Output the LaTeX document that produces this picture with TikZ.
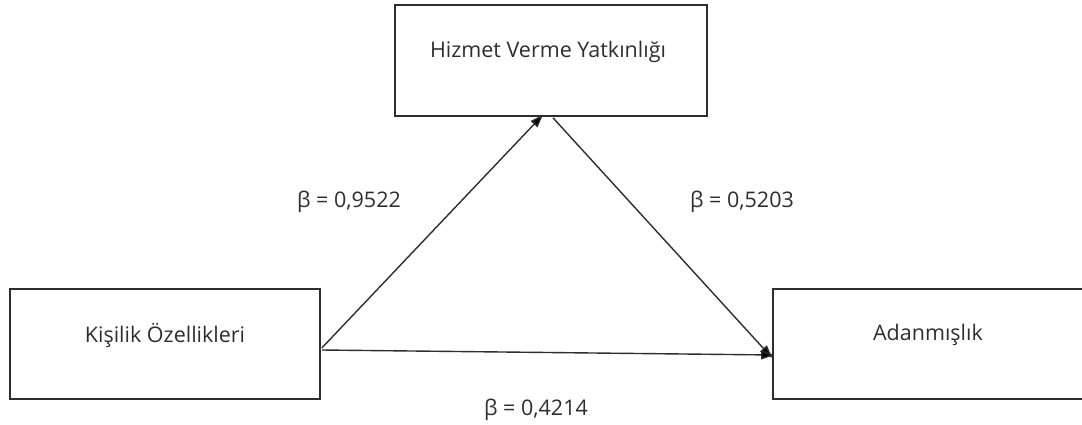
\documentclass[tikz,border=0pt]{standalone}
\usepackage{fontspec}
\setmainfont{Open Sans}
\usetikzlibrary{arrows.meta,calc}
\definecolor{ink}{HTML}{2E2E2E}
\tikzset{
  box/.style={draw=ink, line width=1.6pt, rectangle, inner sep=0pt},
  txt/.style={text=ink, font=\fontsize{21.5}{25}\selectfont, inner sep=0pt},
  arr/.style={draw=ink, line width=1.4pt, -{Triangle[length=13pt,width=9pt,fill=black]}}
}
\begin{document}
\begin{tikzpicture}[x=1pt, y=-1pt]
  \useasboundingbox (0,0) rectangle (1082,424);
  \begin{scope}
    \clip (0,0) rectangle (1082,424);
    % boxes
    \node[box, minimum width=312pt, minimum height=111pt] (hvy) at (551,60.5) {};
    \node[box, minimum width=310pt, minimum height=110pt] (ko) at (165,344) {};
    \node[box, minimum width=320pt, minimum height=110pt] (ad) at (933,344) {};
  \end{scope}
  % box texts
  \node[txt] (hvyt) at (548,52) {Hizmet Verme Yatkınlığı};
  \node[txt] (kot) at (165,335) {Kişilik Özellikleri};
  \node[txt] (adt) at (928,335) {Adanmışlık};
  % connector ends
  \coordinate (s1) at ($(ko.east)+(1,4)$);
  \coordinate (e1) at ($(hvy.south)+(-8,-2)$);
  \coordinate (s2) at ($(hvy.south)+(2,1)$);
  \coordinate (e2) at ($(ad.west)+(0,14)$);
  \coordinate (s3) at ($(ko.east)+(1,6)$);
  \coordinate (e3) at ($(ad.west)+(2,11)$);
  % paths
  \draw[arr] (s1) -- (e1);
  \draw[arr] (s2) -- (e2);
  \draw[arr] (s3) -- (e3);
  % path coefficients
  \node[txt] (b1) at (349,202) {β = 0,9522};
  \node[txt] (b2) at (742,202) {β = 0,5203};
  \node[txt] (b3) at (536,410) {β = 0,4214};
\end{tikzpicture}
\end{document}
